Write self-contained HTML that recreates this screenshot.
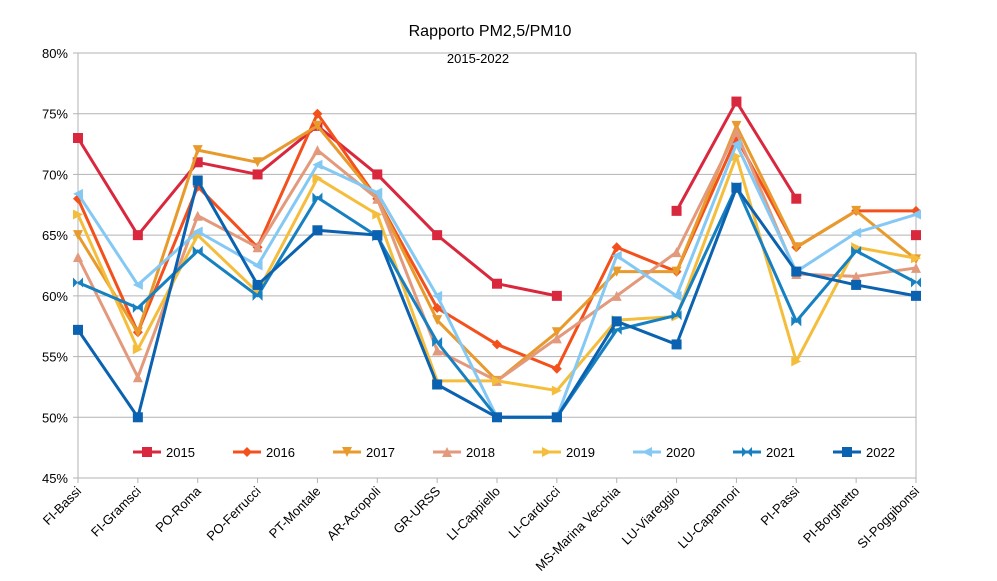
<!DOCTYPE html>
<html><head><meta charset="utf-8"><style>
body{margin:0;background:#fff;font-family:"Liberation Sans",sans-serif}
svg{display:block}
</style></head><body>
<svg id="chart" width="997" height="581" font-family="Liberation Sans, sans-serif"></svg>
<script>
const categories=["FI-Bassi","FI-Gramsci","PO-Roma","PO-Ferrucci","PT-Montale","AR-Acropoli","GR-URSS","LI-Cappiello","LI-Carducci","MS-Marina Vecchia","LU-Viareggio","LU-Capannori","PI-Passi","PI-Borghetto","SI-Poggibonsi"];
const years=["2015","2016","2017","2018","2019","2020","2021","2022"];
const s2015=[73,65,71,70,74,70,65,61,60,null,67,76,68,null,65];
const s2016=[68,57,69,64,75,68,59,56,54,64,62,73,64,67,67];
const s2017=[65,57,72,71,74,68,58,53,57,62,62,74,64,67,63];
const s2018=[63.2,53.3,66.6,64,72,68,55.5,53,56.5,60,63.6,73.5,61.8,61.6,62.3];
const s2019=[66.7,55.6,65,60.3,69.7,66.7,53,53,52.2,58,58.3,71.5,54.6,64,63.1];
const s2020=[68.4,60.9,65.3,62.5,70.8,68.5,60,50,50,63.3,60,72.5,62,65.2,66.7];
const s2021=[61.1,59,63.7,60,68.1,64.9,56.2,50,50,57.2,58.4,69,57.9,63.7,61.1];
const s2022=[57.2,50,69.5,60.9,65.4,65,52.7,50,50,57.9,56,68.9,62,60.9,60];
const yTicks=[45,50,55,60,65,70,75,80];
const series=[s2015,s2016,s2017,s2018,s2019,s2020,s2021,s2022];
const colors=["#d9283e","#f4501c","#e89a2c","#e3997c","#f5bd3c","#84c8f4","#1680c0","#0a62b0"];
const markers=["square","diamond","down","up","right","left","bowtie","square"];
const NS="http://www.w3.org/2000/svg";
const svg=document.getElementById('chart');
const X0=78,X1=916,Y80=53,Y45=478;
const x=i=>X0+i*(X1-X0)/(categories.length-1);
const y=v=>Y45-(v-45)*(Y45-Y80)/35;
function el(t,a,p){const e=document.createElementNS(NS,t);for(const k in a)e.setAttribute(k,a[k]);(p||svg).appendChild(e);return e;}
// title
let t=el('text',{x:490,y:36,'text-anchor':'middle','font-size':16,fill:'#000'});t.textContent='Rapporto PM2,5/PM10';


t=el('text',{x:478,y:63,'text-anchor':'middle','font-size':13,fill:'#000'});t.textContent='2015-2022';


// grid & y ticks
yTicks.forEach(v=>{
 const g=el('line',{x1:X0-5,x2:X1,y1:y(v),y2:y(v),stroke:'#b3b3b3','stroke-width':1});
 
 
 const l=el('text',{x:68,y:y(v)+5,'text-anchor':'end','font-size':13,fill:'#000'});l.textContent=v+'%';
 
 
});
el('line',{x1:X0,x2:X0,y1:Y80,y2:Y45+5,stroke:'#b3b3b3'});
el('line',{x1:X1,x2:X1,y1:Y80,y2:Y45+5,stroke:'#b3b3b3'});
categories.forEach((c,i)=>{
 el('line',{x1:x(i),x2:x(i),y1:Y45,y2:Y45+5,stroke:'#b3b3b3'});
 const l=el('text',{x:x(i)+4,y:Y45+14,'text-anchor':'end','font-size':13,fill:'#000',transform:`rotate(-45 ${x(i)+4} ${Y45+14})`});l.textContent=c;
 
 
});
function marker(type,cx,cy,col,parent){
 const s=5;let m;
 if(type==='square')m=el('rect',{x:cx-s,y:cy-s,width:2*s,height:2*s,fill:col},parent);
 else if(type==='diamond')m=el('polygon',{points:`${cx},${cy-s} ${cx+s},${cy} ${cx},${cy+s} ${cx-s},${cy}`,fill:col},parent);
 else if(type==='down')m=el('polygon',{points:`${cx-s},${cy-s} ${cx+s},${cy-s} ${cx},${cy+s}`,fill:col},parent);
 else if(type==='up')m=el('polygon',{points:`${cx-s},${cy+s} ${cx+s},${cy+s} ${cx},${cy-s}`,fill:col},parent);
 else if(type==='right')m=el('polygon',{points:`${cx-s},${cy-s} ${cx-s},${cy+s} ${cx+s},${cy}`,fill:col},parent);
 else if(type==='left')m=el('polygon',{points:`${cx+s},${cy-s} ${cx+s},${cy+s} ${cx-s},${cy}`,fill:col},parent);
 else m=el('polygon',{points:`${cx-s},${cy-s} ${cx+s},${cy+s} ${cx+s},${cy-s} ${cx-s},${cy+s}`,fill:col},parent);
 return m;
}
series.forEach((d,k)=>{
 const g=el('g',{});
 
 
 let seg=[];
 const flush=()=>{if(seg.length>1)el('polyline',{points:seg.join(' '),fill:'none',stroke:colors[k],'stroke-width':3,'stroke-linejoin':'round'},g);seg=[];};
 d.forEach((v,i)=>{if(v==null){flush();return;}seg.push(x(i)+','+y(v));});
 flush();
 d.forEach((v,i)=>{if(v==null)return;const m=marker(markers[k],x(i),y(v),colors[k],g);
  
  });
});
// legend
years.forEach((yr,k)=>{
 const lx=133+k*100,ly=452;
 const g=el('g',{});
 
 
 el('line',{x1:lx,x2:lx+28,y1:ly,y2:ly,stroke:colors[k],'stroke-width':3},g);
 marker(markers[k],lx+14,ly,colors[k],g);
 const l=el('text',{x:lx+33,y:ly+5,'font-size':13,fill:'#000'},g);l.textContent=yr;
});
</script>
</body></html>
